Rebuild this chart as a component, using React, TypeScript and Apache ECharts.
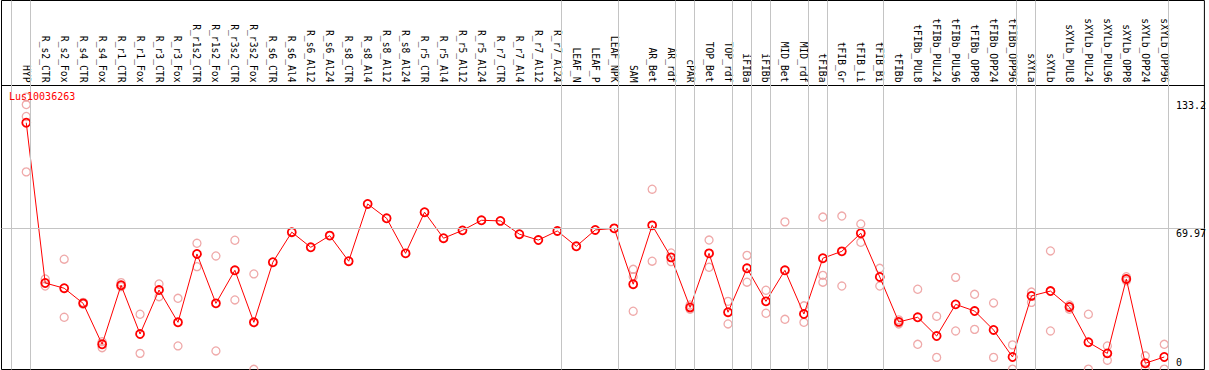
import React, { useEffect, useRef } from 'react';
import * as echarts from 'echarts';

const geneName = 'Lus10036263';

const categories = [
  'HYP', 'R_s2_CTR', 'R_s2_Fox', 'R_s4_CTR', 'R_s4_Fox', 'R_r1_CTR', 'R_r1_Fox', 'R_r3_CTR', 'R_r3_Fox',
  'R_r1s2_CTR', 'R_r1s2_Fox', 'R_r3s2_CTR', 'R_r3s2_Fox', 'R_s6_CTR', 'R_s6_Al4', 'R_s6_Al12', 'R_s6_Al24',
  'R_s8_CTR', 'R_s8_Al4', 'R_s8_Al12', 'R_s8_Al24', 'R_r5_CTR', 'R_r5_Al4', 'R_r5_Al12', 'R_r5_Al24',
  'R_r7_CTR', 'R_r7_Al4', 'R_r7_Al12', 'R_r7_Al24', 'LEAF_N', 'LEAF_P', 'LEAF_NPK', 'SAM', 'AR_Bet', 'AR_rdf',
  'cPAR', 'TOP_Bet', 'TOP_rdf', 'iFIBa', 'iFIBb', 'MID_Bet', 'MID_rdf', 'tFIBa', 'tFIB_Gr', 'tFIB_Li', 'tFIB_Bi',
  'tFIBb', 'tFIBb_PUL8', 'tFIBb_PUL24', 'tFIBb_PUL96', 'tFIBb_OPP8', 'tFIBb_OPP24', 'tFIBb_OPP96',
  'sXYLa', 'sXYLb', 'sXYLb_PUL8', 'sXYLb_PUL24', 'sXYLb_PUL96', 'sXYLb_OPP8', 'sXYLb_OPP24', 'sXYLb_OPP96',
];

const means = [
  122.4, 42.9, 40.3, 32.8, 12.5, 41.8, 17.6, 39.4, 23.4, 57.3, 32.8, 49.2, 23.4, 53.2, 68.1, 60.6, 66.4,
  53.7, 82.1, 75.0, 57.6, 78.0, 65.1, 69.0, 74.0, 73.7, 67.1, 64.2, 68.7, 61.1, 69.2, 70.0, 42.3, 71.5, 55.6,
  30.8, 57.6, 28.4, 50.2, 33.8, 49.2, 27.5, 55.2, 58.6, 67.6, 45.9, 23.6, 25.9, 16.6, 32.3, 29.0, 19.6, 6.2,
  36.5, 38.9, 31.0, 13.5, 8.0, 44.9, 3.1, 6.2,
];

const replicates: number[][] = [
  [135.1, 131.4, 125.5, 98.0], [44.9, 41.4], [54.7, 25.9], [33.3, 32.4], [13.8, 10.8], [43.1, 41.1],
  [27.4, 8.0], [42.4, 36.1], [35.3, 11.7], [62.6, 51.0], [56.3, 9.2], [64.1, 34.5], [47.4, 0.1],
  [], [], [], [], [], [], [], [], [], [], [], [], [], [], [], [], [], [], [],
  [49.7, 46.0, 28.9], [89.4, 53.7], [57.8, 53.5], [32.0, 29.9], [64.2, 50.7], [33.8, 22.6], [56.6, 43.3],
  [39.3, 27.9], [73.2, 24.9], [31.6, 23.4], [75.6, 46.7, 43.3], [76.1, 41.4], [72.2, 63.1], [50.2, 41.4],
  [24.6, 22.6], [39.8, 12.5], [26.4, 6.0], [45.7, 19.1], [37.3, 19.9], [33.0, 6.0], [12.2, 0.2],
  [38.4, 33.3], [58.8, 19.1], [32.0, 29.9], [27.4, 0.2], [11.7, 4.6], [46.0, 44.0], [6.8, 0.2], [12.5, 0.2],
];

// index of the last category of each group (-1 = frame start)
const groupEnds = [-1, 0, 28, 31, 34, 35, 37, 38, 39, 41, 42, 45, 52, 53, 60];
const yTickValues = [0, 69.97, 133.2];
const referenceLine = 69.97;

const FONT = '"DejaVu Sans Mono", monospace';

export default function App() {
  const ref = useRef<HTMLDivElement>(null);
  useEffect(() => {
    document.body.style.margin = '0';
    if (!ref.current) return;
    const chart = echarts.init(ref.current, undefined, { renderer: 'svg' });
    const meanData = means.map((v, i) => [i, v]);
    const repData: number[][] = [];
    replicates.forEach((arr, i) => arr.forEach((v) => repData.push([i, v])));
    const sepOffset = 0.21;
    chart.setOption({
      animation: false,
      backgroundColor: '#fff',
      title: {
        text: geneName,
        left: 9,
        top: 91,
        padding: 0,
        textStyle: { color: '#ff0000', fontSize: 10, fontWeight: 'normal', fontFamily: FONT },
      },
      grid: {
        left: 1.5,
        top: 0.5,
        width: 1205,
        height: 369,
        show: true,
        borderColor: '#000',
        borderWidth: 1,
        backgroundColor: 'transparent',
      },
      xAxis: {
        type: 'value',
        position: 'top',
        offset: -85,
        min: -1.305,
        max: 62.116,
        axisLine: { show: true, onZero: false, lineStyle: { color: '#000', width: 1 } },
        axisTick: { show: false },
        splitLine: { show: false },
        axisLabel: {
          customValues: categories.map((_, i) => i),
          formatter: (v: number) => categories[Math.round(v)] ?? '',
          rotate: 90,
          margin: 3,
          color: '#000',
          fontSize: 9.7,
          fontFamily: FONT,
        },
      },
      yAxis: {
        type: 'value',
        position: 'right',
        min: 0,
        max: 183.0,
        axisLine: { show: false },
        axisTick: { show: false },
        splitLine: { show: false },
        axisLabel: {
          customValues: yTickValues,
          margin: -28.5,
          align: 'left',
          verticalAlign: 'middle',
          color: '#000',
          fontSize: 10,
          fontFamily: FONT,
          formatter: (v: number) => (v === 0 ? '{b|0}' : '{t|' + v + '}'),
          rich: {
            t: { padding: [10, 0, 0, 0], fontSize: 10, fontFamily: FONT, color: '#000' },
            b: { padding: [0, 0, 15, 0], fontSize: 10, fontFamily: FONT, color: '#000' },
          },
        },
      },
      series: [
        {
          type: 'scatter',
          data: repData,
          symbol: 'circle',
          symbolSize: 8,
          z: 2,
          itemStyle: { color: 'transparent', borderColor: '#eb9494', borderWidth: 1.3 },
          markLine: {
            silent: true,
            symbol: ['none', 'none'],
            label: { show: false },
            lineStyle: { color: '#c4c4c4', type: 'solid', width: 1 },
            data: [
              ...groupEnds.map((g) => ({ xAxis: g + sepOffset })),
              { yAxis: referenceLine },
            ],
          },
        },
        {
          type: 'line',
          data: meanData,
          symbol: 'circle',
          symbolSize: 8,
          z: 3,
          lineStyle: { color: '#ff0000', width: 1 },
          itemStyle: { color: 'transparent', borderColor: '#ff0000', borderWidth: 1.8 },
        },
      ],
    });
    return () => chart.dispose();
  }, []);
  return <div ref={ref} style={{ width: 1209, height: 370 }} />;
}
